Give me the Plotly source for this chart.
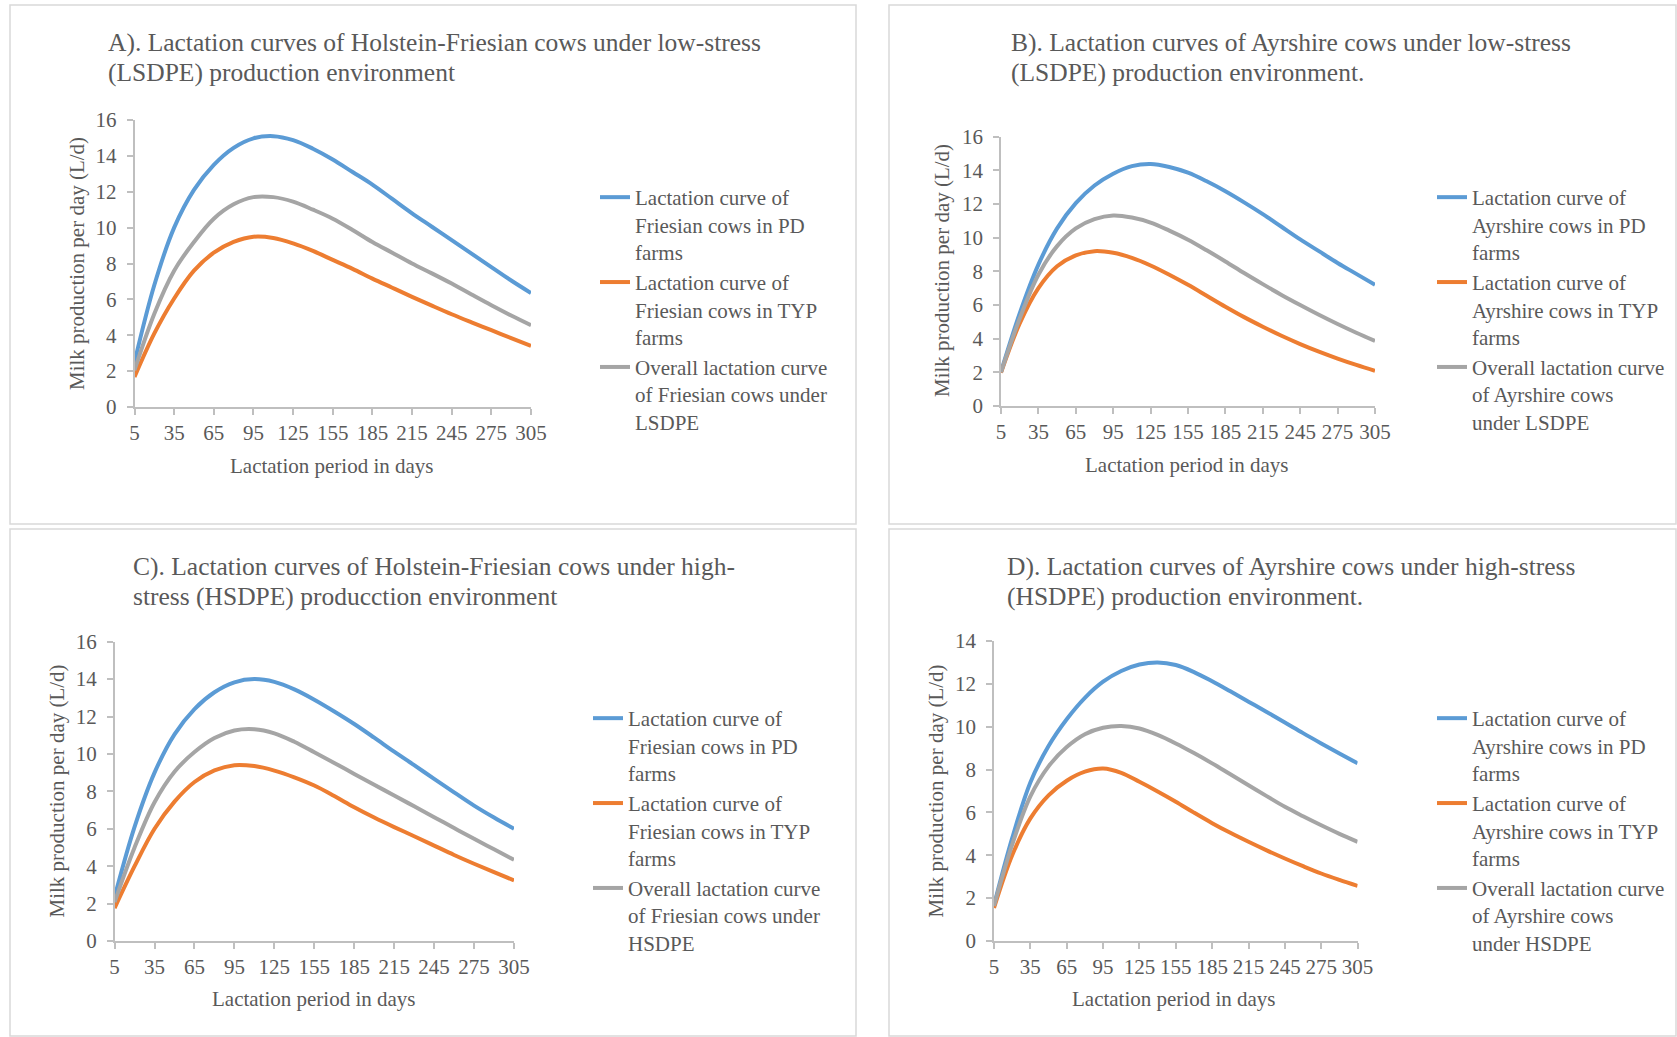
import plotly.graph_objects as go

W, H = 1677, 1037

# ---------------- data ----------------
DAYS = [5, 20, 35, 50, 65, 80, 95, 110, 125, 140, 155, 170, 185, 200, 215, 230, 245, 260, 275, 290, 305]
X_TICKS = [5, 35, 65, 95, 125, 155, 185, 215, 245, 275, 305]

# A) Holstein-Friesian, low-stress (LSDPE)
A_PD = [2.5, 6.8, 10.0, 12.1, 13.5, 14.45, 14.98, 15.1, 14.88, 14.4, 13.8, 13.1, 12.4, 11.6, 10.8, 10.05, 9.3, 8.55, 7.8, 7.05, 6.35]
A_TYP = [1.67, 4.1, 6.05, 7.6, 8.6, 9.2, 9.49, 9.42, 9.12, 8.7, 8.2, 7.7, 7.16, 6.65, 6.14, 5.65, 5.17, 4.72, 4.28, 3.84, 3.4]
A_ALL = [2.05, 5.2, 7.6, 9.2, 10.5, 11.3, 11.7, 11.7, 11.45, 11.0, 10.5, 9.87, 9.2, 8.6, 8.0, 7.45, 6.88, 6.27, 5.67, 5.1, 4.56]

# B) Ayrshire, low-stress (LSDPE)
B_PD = [2.03, 5.5, 8.4, 10.55, 12.05, 13.1, 13.8, 14.25, 14.38, 14.2, 13.86, 13.35, 12.76, 12.1, 11.4, 10.65, 9.9, 9.2, 8.5, 7.85, 7.2]
B_TYP = [1.98, 4.9, 7.0, 8.3, 8.95, 9.2, 9.1, 8.8, 8.35, 7.8, 7.2, 6.55, 5.9, 5.28, 4.71, 4.17, 3.68, 3.23, 2.82, 2.44, 2.09]
B_ALL = [2.0, 5.2, 7.8, 9.5, 10.55, 11.1, 11.32, 11.2, 10.9, 10.42, 9.88, 9.25, 8.59, 7.9, 7.24, 6.6, 6.0, 5.42, 4.87, 4.35, 3.86]

# C) Holstein-Friesian, high-stress (HSDPE)
C_PD = [2.35, 6.1, 9.0, 11.05, 12.4, 13.3, 13.83, 14.0, 13.85, 13.45, 12.9, 12.27, 11.6, 10.87, 10.12, 9.4, 8.67, 7.95, 7.24, 6.6, 6.0]
C_TYP = [1.76, 4.0, 6.0, 7.45, 8.5, 9.12, 9.4, 9.35, 9.11, 8.75, 8.31, 7.75, 7.15, 6.6, 6.09, 5.6, 5.1, 4.6, 4.13, 3.68, 3.24]
C_ALL = [2.08, 5.0, 7.42, 9.05, 10.1, 10.85, 11.25, 11.32, 11.1, 10.65, 10.09, 9.52, 8.93, 8.35, 7.78, 7.2, 6.62, 6.04, 5.46, 4.9, 4.34]

# D) Ayrshire, high-stress (HSDPE)
D_PD = [1.67, 4.8, 7.4, 9.1, 10.35, 11.35, 12.1, 12.6, 12.9, 13.0, 12.88, 12.55, 12.12, 11.65, 11.17, 10.69, 10.2, 9.7, 9.22, 8.75, 8.29]
D_TYP = [1.54, 4.0, 5.72, 6.8, 7.48, 7.9, 8.05, 7.85, 7.43, 6.98, 6.5, 5.99, 5.5, 5.05, 4.63, 4.23, 3.85, 3.49, 3.15, 2.85, 2.57]
D_ALL = [1.64, 4.5, 6.75, 8.15, 9.05, 9.65, 9.95, 10.03, 9.92, 9.62, 9.22, 8.77, 8.29, 7.78, 7.27, 6.76, 6.26, 5.82, 5.4, 5.0, 4.63]

# ---------------- styling ----------------
FONT = "Times New Roman, Liberation Serif, serif"
TXT = "#595959"
AXC = "#BFBFBF"
BLUE, ORANGE, GRAY = "#5B9BD5", "#ED7D31", "#A5A5A5"


def fx(x):
    return x / W


def fy(y):
    return 1 - y / H


panels = [
    dict(key="", x0=134.5, x1=531, y0=120, y1=407, ymax=16,
         series=[A_PD, A_TYP, A_ALL],
         names=["Lactation curve of<br>Friesian cows in PD<br>farms",
                "Lactation curve of<br>Friesian cows in TYP<br>farms",
                "Overall lactation curve<br>of Friesian cows under<br>LSDPE"],
         title=["A). Lactation curves of Holstein-Friesian cows under low-stress",
                "(LSDPE) production environment"],
         tx=106, ty=42, leg=(635, 198), ytl=(77, 264), xtl=(332, 466)),
    dict(key="2", x0=1001, x1=1375, y0=136.7, y1=406, ymax=16,
         series=[B_PD, B_TYP, B_ALL],
         names=["Lactation curve of<br>Ayrshire cows in PD<br>farms",
                "Lactation curve of<br>Ayrshire cows in TYP<br>farms",
                "Overall lactation curve<br>of Ayrshire cows<br>under LSDPE"],
         title=["B). Lactation curves of Ayrshire cows under low-stress",
                "(LSDPE) production environment."],
         tx=1009, ty=42, leg=(1472, 198), ytl=(942, 271), xtl=(1187, 465)),
    dict(key="3", x0=114.6, x1=514, y0=641.7, y1=941, ymax=16,
         series=[C_PD, C_TYP, C_ALL],
         names=["Lactation curve of<br>Friesian cows in PD<br>farms",
                "Lactation curve of<br>Friesian cows in TYP<br>farms",
                "Overall lactation curve<br>of Friesian cows under<br>HSDPE"],
         title=["C). Lactation curves of Holstein-Friesian cows under high-",
                "stress (HSDPE) producction environment"],
         tx=131, ty=566, leg=(628, 719), ytl=(56.5, 791), xtl=(314, 999)),
    dict(key="4", x0=994, x1=1357.6, y0=641, y1=941, ymax=14,
         series=[D_PD, D_TYP, D_ALL],
         names=["Lactation curve of<br>Ayrshire cows in PD<br>farms",
                "Lactation curve of<br>Ayrshire cows in TYP<br>farms",
                "Overall lactation curve<br>of Ayrshire cows<br>under HSDPE"],
         title=["D). Lactation curves of Ayrshire cows under high-stress",
                "(HSDPE) production environment."],
         tx=1005, ty=566, leg=(1472, 719), ytl=(935.5, 791), xtl=(1174, 999)),
]

fig = go.Figure()
layout = dict(
    width=W, height=H, margin=dict(l=0, r=0, t=0, b=0, autoexpand=False),
    paper_bgcolor="white", plot_bgcolor="white",
    font=dict(family=FONT, size=21, color=TXT),
    annotations=[], shapes=[],
)

colors = [BLUE, ORANGE, GRAY]
for p in panels:
    k = p["key"]
    legend_name = "legend" + k
    for vals, name, col in zip(p["series"], p["names"], colors):
        fig.add_trace(go.Scatter(
            x=DAYS, y=vals, mode="lines", name=name,
            line=dict(color=col, width=4, shape="spline", smoothing=1.0),
            xaxis="x" + k, yaxis="y" + k, legend=legend_name,
            hoverinfo="x+y",
        ))
    layout["xaxis" + k] = dict(
        domain=[fx(p["x0"]), fx(p["x1"])], anchor="y" + k,
        range=[5, 305], tickvals=X_TICKS, ticktext=[str(t) for t in X_TICKS],
        showline=True, linecolor=AXC, linewidth=1.5,
        ticks="outside", ticklen=6, tickcolor=AXC, tickwidth=1.5,
        showgrid=False, zeroline=False, automargin=False,
        tickfont=dict(family=FONT, size=21, color=TXT),
    )
    layout["yaxis" + k] = dict(
        domain=[fy(p["y1"]), fy(p["y0"])], anchor="x" + k,
        range=[0, p["ymax"]], dtick=2, tick0=0,
        showline=True, linecolor=AXC, linewidth=1.5,
        ticks="outside", ticklen=6, tickcolor=AXC, tickwidth=1.5,
        showgrid=False, zeroline=False, automargin=False,
        ticklabelstandoff=6,
        tickfont=dict(family=FONT, size=21, color=TXT),
    )
    lx, ly = p["leg"]
    layout[legend_name] = dict(
        x=fx(lx - 40), y=fy(ly - 21), xanchor="left", yanchor="top",
        xref="paper", yref="paper",
        bgcolor="rgba(0,0,0,0)", borderwidth=0,
        font=dict(family=FONT, size=21, color=TXT),
        valign="top", itemclick=False, itemdoubleclick=False,
    )
    # titles (two lines)
    for i, line in enumerate(p["title"]):
        layout["annotations"].append(dict(
            text=line, x=fx(p["tx"]), y=fy(p["ty"] + 30 * i),
            xref="paper", yref="paper", xanchor="left", yanchor="middle",
            showarrow=False, font=dict(family=FONT, size=25.5, color=TXT),
        ))
    # axis titles
    layout["annotations"].append(dict(
        text="Milk production per day (L/d)", x=fx(p["ytl"][0]), y=fy(p["ytl"][1]),
        xref="paper", yref="paper", xanchor="center", yanchor="middle",
        textangle=-90, showarrow=False, font=dict(family=FONT, size=21, color=TXT),
    ))
    layout["annotations"].append(dict(
        text="Lactation period in days", x=fx(p["xtl"][0]), y=fy(p["xtl"][1]),
        xref="paper", yref="paper", xanchor="center", yanchor="middle",
        showarrow=False, font=dict(family=FONT, size=21, color=TXT),
    ))

# chart-area borders
for (x0, y0, x1, y1) in [(10, 5, 856, 524), (889, 5, 1676, 524),
                         (10, 529, 856, 1036), (889, 529, 1676, 1036)]:
    layout["shapes"].append(dict(
        type="rect", xref="paper", yref="paper",
        x0=fx(x0), x1=fx(x1), y0=fy(y1), y1=fy(y0),
        line=dict(color="#D9D9D9", width=1.5), fillcolor="rgba(0,0,0,0)",
        layer="below",
    ))

fig.update_layout(**layout)
fig.write_html(
    "out.html",
    config={"responsive": False, "displayModeBar": False},
    post_script="document.body.style.margin='0px';document.body.style.overflow='hidden';",
)
